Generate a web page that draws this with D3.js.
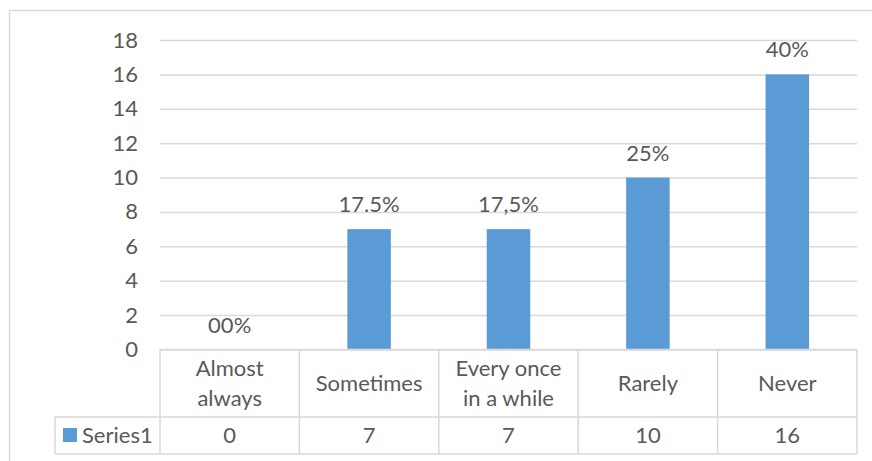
<!DOCTYPE html>
<html>
<head>
<meta charset="utf-8">
<script src="https://cdn.jsdelivr.net/npm/d3@7"></script>
<style>
  html, body { margin: 0; padding: 0; background: #fff; }
  svg { display: block; font-family: Lato, "Open Sans", sans-serif; }
</style>
</head>
<body>
<svg id="chart" width="872" height="461"></svg>
<script>
// Survey answers and counts
const categories = ["Almost always", "Sometimes", "Every once in a while", "Rarely", "Never"];
const categoryLines = [["Almost", "always"], ["Sometimes"], ["Every once", "in a while"], ["Rarely"], ["Never"]];
const values = [0, 7, 7, 10, 16];
const percentLabels = ["00%", "17.5%", "17,5%", "25%", "40%"];
const seriesName = "Series1";
const yTicks = [0, 2, 4, 6, 8, 10, 12, 14, 16, 18];

const textColor = "#595959";
const lineColor = "#d9d9d9";
const barColor = "#5b9bd5";
const fontSize = 22;

const svg = d3.select("#chart");

// Plot geometry
const plotLeft = 160, plotRight = 857;
const plotTop = 40, plotBottom = 349.5;
const headerBottom = 417, tableBottom = 454;
const legendLeft = 55;

// Outer chart frame
svg.append("rect")
  .attr("x", 9.5).attr("y", 10.5)
  .attr("width", 900).attr("height", 500)
  .attr("fill", "none").attr("stroke", lineColor).attr("stroke-width", 1.5);

const x = d3.scaleBand().domain(categories).range([plotLeft, plotRight]).padding(0);
const y = d3.scaleLinear().domain([0, 18]).range([plotBottom, plotTop]);

// Gridlines
const grid = svg.append("g")
  .attr("transform", `translate(${plotLeft},0)`)
  .call(d3.axisLeft(y).tickValues(yTicks).tickSize(-(plotRight - plotLeft)).tickFormat(""));
grid.select(".domain").remove();
grid.selectAll("line").attr("stroke", lineColor).attr("stroke-width", 1.5);

// Y axis labels
const yAxis = svg.append("g")
  .attr("transform", `translate(138,0)`)
  .call(d3.axisLeft(y).tickValues(yTicks).tickSize(0).tickPadding(0));
yAxis.select(".domain").remove();
yAxis.selectAll("text")
  .attr("fill", textColor)
  .style("font-size", fontSize + "px")
  .style("font-family", "Lato, 'Open Sans', sans-serif");

// Bars
const barWidth = x.bandwidth() * 0.312;
svg.append("g").selectAll("rect")
  .data(values)
  .join("rect")
  .attr("x", (d, i) => x(categories[i]) + (x.bandwidth() - barWidth) / 2)
  .attr("y", d => y(d))
  .attr("width", barWidth)
  .attr("height", d => y(0) - y(d))
  .attr("fill", barColor);

// Value labels above bars
svg.append("g").selectAll("text")
  .data(values)
  .join("text")
  .attr("x", (d, i) => x(categories[i]) + x.bandwidth() / 2)
  .attr("y", d => y(d) - 17)
  .attr("text-anchor", "middle")
  .attr("fill", textColor)
  .style("font-size", fontSize + "px")
  .text((d, i) => percentLabels[i]);

// Data table
const table = svg.append("g")
  .attr("stroke", lineColor).attr("stroke-width", 1.5).attr("fill", "none");
table.append("line").attr("x1", plotLeft).attr("x2", plotRight).attr("y1", plotBottom).attr("y2", plotBottom);
table.append("line").attr("x1", legendLeft).attr("x2", plotRight).attr("y1", headerBottom).attr("y2", headerBottom);
table.append("line").attr("x1", legendLeft).attr("x2", plotRight).attr("y1", tableBottom).attr("y2", tableBottom);
table.append("line").attr("x1", legendLeft).attr("x2", legendLeft).attr("y1", headerBottom).attr("y2", tableBottom);
const edges = categories.map(c => x(c)).concat([plotRight]);
table.selectAll("line.col")
  .data(edges)
  .join("line")
  .attr("class", "col")
  .attr("x1", d => d).attr("x2", d => d)
  .attr("y1", plotBottom).attr("y2", tableBottom);

// Category headers
const headerMid = (plotBottom + headerBottom) / 2;
const lineGap = 30;
const headers = svg.append("g")
  .attr("fill", textColor)
  .style("font-size", fontSize + "px")
  .attr("text-anchor", "middle");
categoryLines.forEach((lines, i) => {
  const cx = x(categories[i]) + x.bandwidth() / 2;
  const t = headers.append("text").attr("x", cx);
  lines.forEach((ln, j) => {
    t.append("tspan")
      .attr("x", cx)
      .attr("y", headerMid + (j - (lines.length - 1) / 2) * lineGap)
      .attr("dy", "0.35em")
      .text(ln);
  });
});

// Value row
const rowMid = (headerBottom + tableBottom) / 2;
svg.append("g").selectAll("text")
  .data(values)
  .join("text")
  .attr("x", (d, i) => x(categories[i]) + x.bandwidth() / 2)
  .attr("y", rowMid)
  .attr("dy", "0.35em")
  .attr("text-anchor", "middle")
  .attr("fill", textColor)
  .style("font-size", fontSize + "px")
  .text(d => d);

// Legend key in table
svg.append("rect")
  .attr("x", 63).attr("y", 428)
  .attr("width", 14).attr("height", 14)
  .attr("fill", barColor);
svg.append("text")
  .attr("x", 82).attr("y", rowMid)
  .attr("dy", "0.35em")
  .attr("fill", textColor)
  .style("font-size", fontSize + "px")
  .text(seriesName);
</script>
</body>
</html>
